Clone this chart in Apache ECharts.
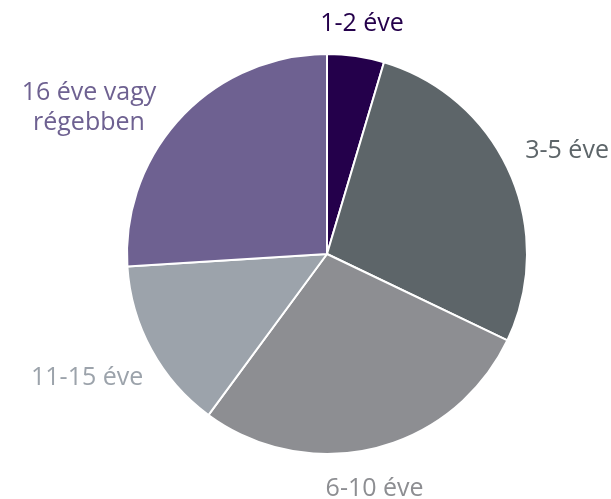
<!DOCTYPE html>
<html>
<head>
<meta charset="utf-8">
<script src="https://cdn.jsdelivr.net/npm/echarts@6/dist/echarts.min.js"></script>
<style>
  html, body { margin: 0; padding: 0; background: #fff; }
  #chart { width: 611px; height: 499px; }
</style>
</head>
<body>
<div id="chart"></div>
<script>
const categories = ['1-2 éve', '3-5 éve', '6-10 éve', '11-15 éve', '16 éve vagy\nrégebben']
const values = [4.6, 27.5, 28.0, 13.9, 26.0]
const colors = ['#24004b', '#5d6569', '#8d8e92', '#9ca3ab', '#6e6191']
const labelColors = ['#24004b', '#5d6569', '#8d8e92', '#9ca3ab', '#6e6191']

const cx = 327
const cy = 254
const radius = 200
const gap = 24
// small nudges so labels sit where the original put them
const labelNudge = [-0.5, -1.5, 4, -2.5, -8] // degrees
const labelPush = [-7, 0, 0, 0, 0] // px, radial

const total = values.reduce((a, b) => a + b, 0)
// mid angle (clockwise from 12 o'clock) of each slice
const midAngles = []
let acc = 0
values.forEach(v => {
  midAngles.push((acc + v / 2) / total * Math.PI * 2)
  acc += v
})

const chart = echarts.init(document.getElementById('chart'))
chart.setOption({
  animation: false,
  series: [{
    type: 'pie',
    center: [cx, cy],
    radius: radius,
    startAngle: 90,
    clockwise: true,
    itemStyle: { borderColor: '#fff', borderWidth: 2 },
    label: {
      show: true,
      position: 'outside',
      fontFamily: 'Open Sans',
      fontSize: 25,
      lineHeight: 30,
      overflow: 'none',
      align: 'center'
    },
    labelLine: { show: false },
    labelLayout: function (p) {
      const i = p.dataIndex
      const a = midAngles[i] + labelNudge[i] * Math.PI / 180
      const s = Math.sin(a)
      const c = Math.cos(a)
      const w = p.labelRect.width
      const h = p.labelRect.height
      const r = radius + gap + labelPush[i]
      const px = cx + r * s
      const py = cy - r * c
      return {
        x: px + w / 2 * s,
        y: py - h / 2 * c,
        align: 'center',
        verticalAlign: 'middle'
      }
    },
    data: categories.map((name, i) => ({
      name: name,
      value: values[i],
      itemStyle: { color: colors[i] },
      label: { color: labelColors[i] }
    }))
  }]
})
</script>
</body>
</html>
